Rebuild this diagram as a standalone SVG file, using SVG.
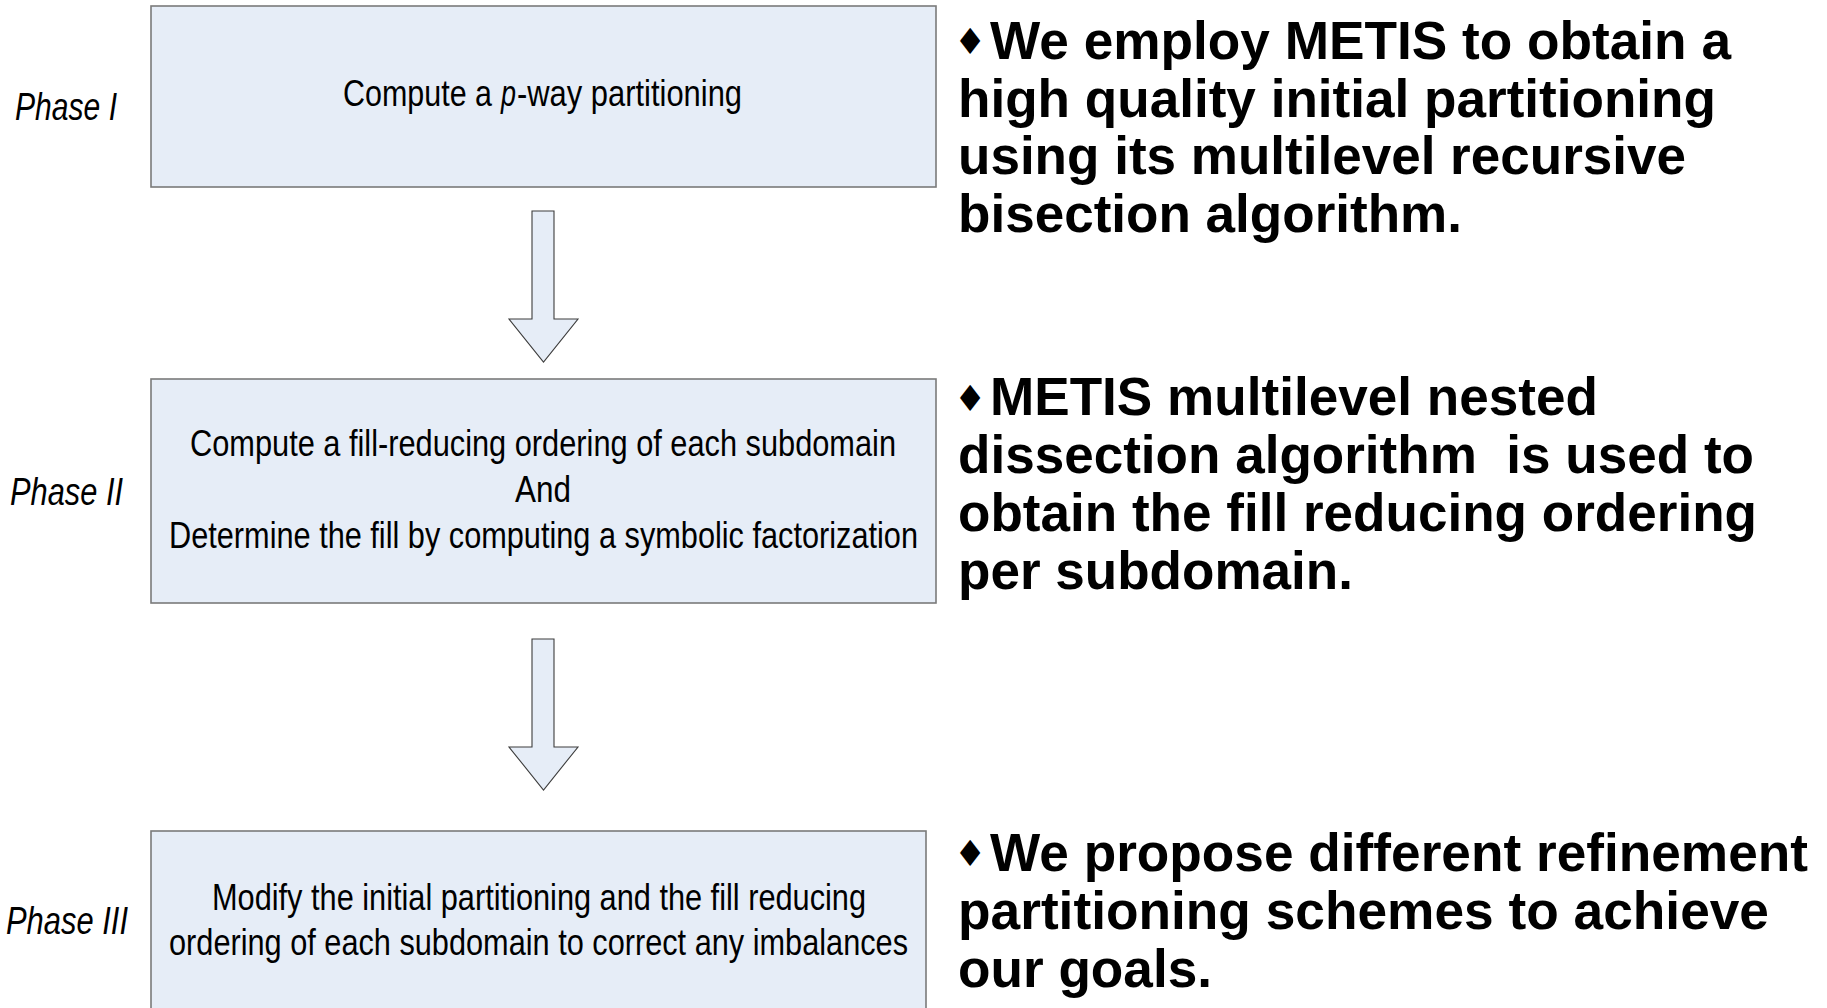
<svg xmlns="http://www.w3.org/2000/svg" width="1827" height="1008" viewBox="0 0 1827 1008">
<style>
.box{fill:#e6edf7;stroke:#7a7a7a;stroke-width:1.6}
.arr{fill:#e6edf7;stroke:#3c3c3c;stroke-width:1.1}
.bt{font-family:"Liberation Sans",Arial,sans-serif;font-size:36px;fill:#000;text-anchor:middle}
.bs{font-family:"Liberation Sans",Arial,sans-serif;font-size:36px;fill:#000}
.ph{font-family:"Liberation Sans",Arial,sans-serif;font-size:38px;font-style:italic;fill:#000}
.rt{font-family:"Liberation Sans",Arial,sans-serif;font-size:53px;font-weight:bold;fill:#000;white-space:pre}
.bul{font-family:"DejaVu Sans",sans-serif;font-size:36px;fill:#000}
</style>
<rect width="1827" height="1008" fill="#fff"/>
<g id="connectors">
<polygon class="arr" points="532,211 554,211 554,319 578,319 543.5,362 509,319 532,319"/>
<polygon class="arr" points="532,639 554,639 554,747 578,747 543.5,790 509,747 532,747"/>
</g>
<g id="phase1">
<rect class="box" x="151" y="6" width="785" height="181"/>
<text class="ph" x="15" y="120" textLength="102" lengthAdjust="spacingAndGlyphs">Phase I</text>
<text class="bs" x="343" y="106" textLength="149" lengthAdjust="spacingAndGlyphs">Compute a</text>
<text class="bs" x="501" y="106" font-style="italic" textLength="15" lengthAdjust="spacingAndGlyphs">p</text>
<text class="bs" x="517" y="106" textLength="225" lengthAdjust="spacingAndGlyphs">-way partitioning</text>
</g>
<g id="phase2">
<rect class="box" x="151" y="379" width="785" height="224"/>
<text class="ph" x="10" y="505" textLength="113" lengthAdjust="spacingAndGlyphs">Phase II</text>
<text class="bt" x="543" y="456" textLength="706" lengthAdjust="spacingAndGlyphs">Compute a fill-reducing ordering of each subdomain</text>
<text class="bt" x="543" y="502" textLength="56" lengthAdjust="spacingAndGlyphs">And</text>
<text class="bt" x="543.5" y="548" textLength="749" lengthAdjust="spacingAndGlyphs">Determine the fill by computing a symbolic factorization</text>
</g>
<g id="phase3">
<rect class="box" x="151" y="831" width="775" height="200"/>
<text class="ph" x="6" y="934" textLength="122" lengthAdjust="spacingAndGlyphs">Phase III</text>
<text class="bt" x="539" y="910" textLength="654" lengthAdjust="spacingAndGlyphs">Modify the initial partitioning and the fill reducing</text>
<text class="bt" x="538.5" y="955" textLength="739" lengthAdjust="spacingAndGlyphs">ordering of each subdomain to correct any imbalances</text>
</g>
<g id="note1">
<text class="bul" x="954" y="54">♦</text>
<text class="rt" x="990" y="59" textLength="741" lengthAdjust="spacingAndGlyphs">We employ METIS to obtain a</text>
<text class="rt" x="958" y="117" textLength="758" lengthAdjust="spacingAndGlyphs">high quality initial partitioning</text>
<text class="rt" x="958" y="174" textLength="728" lengthAdjust="spacingAndGlyphs">using its multilevel recursive</text>
<text class="rt" x="958" y="232" textLength="504" lengthAdjust="spacingAndGlyphs">bisection algorithm.</text>
</g>
<g id="note2">
<text class="bul" x="954" y="411">♦</text>
<text class="rt" x="990" y="415" textLength="608" lengthAdjust="spacingAndGlyphs">METIS multilevel nested</text>
<text class="rt" x="958" y="473" textLength="796" lengthAdjust="spacingAndGlyphs">dissection algorithm  is used to</text>
<text class="rt" x="958" y="531" textLength="799" lengthAdjust="spacingAndGlyphs">obtain the fill reducing ordering</text>
<text class="rt" x="958" y="589" textLength="395" lengthAdjust="spacingAndGlyphs">per subdomain.</text>
</g>
<g id="note3">
<text class="bul" x="954" y="866">♦</text>
<text class="rt" x="990" y="871" textLength="818" lengthAdjust="spacingAndGlyphs">We propose different refinement</text>
<text class="rt" x="958" y="929" textLength="811" lengthAdjust="spacingAndGlyphs">partitioning schemes to achieve</text>
<text class="rt" x="958" y="987" textLength="254" lengthAdjust="spacingAndGlyphs">our goals.</text>
</g>
</svg>
